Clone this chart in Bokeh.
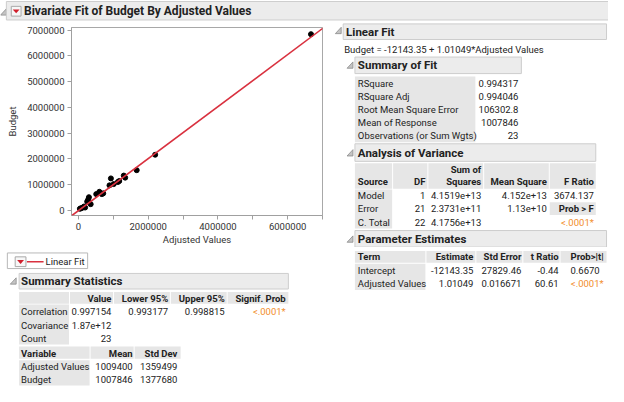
from bokeh.plotting import figure
from bokeh.models import Range1d, FixedTicker, BasicTickFormatter, Slope
from bokeh.layouts import column, row
from bokeh.core.properties import value
from bokeh.embed import file_html
from bokeh.resources import INLINE

# scatter data
adjusted_values = [6670000, 2200000, 1670000, 1340000, 1300000, 1170000, 1130000, 1010000,
                   930000, 890000, 710000, 670000, 600000, 510000, 350000, 300000, 280000,
                   250000, 160000, 110000, 70000, 190000, 40000]
budget = [6840000, 2160000, 1560000, 1270000, 1350000, 1140000, 1100000, 1020000,
          1240000, 970000, 660000, 630000, 720000, 630000, 240000, 510000, 420000,
          340000, 150000, 100000, 80000, 110000, 60000]
fit_intercept = -12143.35
fit_slope = 1.01049

y_ticks = [0, 1000000, 2000000, 3000000, 4000000, 5000000, 6000000, 7000000]
x_ticks = [0, 2000000, 4000000, 6000000]
x_minor = [1000000, 3000000, 5000000, 7000000]

fit_labels = ["RSquare", "RSquare Adj", "Root Mean Square Error", "Mean of Response",
              "Observations (or Sum Wgts)"]
fit_values = ["0.994317", "0.994046", "106302.8", "1007846", "23"]

anova_source = ["Model", "Error", "C. Total"]
anova_df = ["1", "21", "22"]
anova_ss = ["4.1519e+13", "2.3731e+11", "4.1756e+13"]
anova_ms = ["4.152e+13", "1.13e+10"]
anova_f = "3674.137"
anova_prob = "<.0001*"

pe_terms = ["Intercept", "Adjusted Values"]
pe_est = ["-12143.35", "1.01049"]
pe_se = ["27829.46", "0.016671"]
pe_t = ["-0.44", "60.61"]
pe_prob = ["0.6670", "<.0001*"]

stat_cols = ["Value", "Lower 95%", "Upper 95%", "Signif. Prob"]
stat_rows = ["Correlation", "Covariance", "Count"]
corr_row = ["0.997154", "0.993177", "0.998815", "<.0001*"]
covariance = "1.87e+12"
count = "23"
var_names = ["Adjusted Values", "Budget"]
var_mean = ["1009400", "1007846"]
var_sd = ["1359499", "1377680"]

FONT = "Roboto"
TXT = "#222222"
HEAD = "#ececec"
HEADLINE = "#cdcdcd"
CELL = "#e6e6e6"
ORANGE = "#f28e2b"
RED = "#d9313f"
SEC = "11.5px"

SX = 608 / 621
SY = 386 / 396


def rx(x, ox=0):
    return (x - 1) * SX - ox


def ry(y, oy=0):
    return (y - 2) * SY - oy


def canvas(w, h):
    p = figure(width=w, height=h, x_range=Range1d(0, w), y_range=Range1d(h, 0),
               x_axis_type=None, y_axis_type=None, toolbar_location=None,
               output_backend="svg", min_border=0)
    p.outline_line_color = None
    return p


def boxes(p, off, lefts, rights, top, bottom, fill, line=None):
    ox, oy = off
    p.quad(left=[rx(v, ox) for v in lefts], right=[rx(v, ox) for v in rights],
           top=[ry(top, oy)] * len(lefts), bottom=[ry(bottom, oy)] * len(lefts),
           fill_color=fill, line_color=line, line_width=1)


def texts(p, off, xs, ys, labels, align="left", size="9.5px", bold=False, color=TXT):
    ox, oy = off
    p.text(x=[rx(v, ox) for v in xs], y=[ry(v, oy) for v in ys], text=labels,
           text_align=align, text_baseline="middle", text_font=value(FONT),
           text_font_size=size, text_font_style="bold" if bold else "normal",
           text_color=color)


def disclosure(p, off, x, y):
    ox, oy = off
    p.patch([rx(x, ox), rx(x + 6, ox), rx(x + 6, ox)], [ry(y, oy), ry(y, oy), ry(y - 6.5, oy)],
            fill_color="#c4c4c4", line_color="#8c8c8c", line_width=0.8)


def red_button(p, off, l, r, t, b):
    ox, oy = off
    boxes(p, off, [l], [r], t, b, "#f7f7f7", "#a8a8a8")
    cx, cy = (l + r) / 2, (t + b) / 2
    p.patch([rx(cx - 3.5, ox), rx(cx + 3.5, ox), rx(cx, ox)],
            [ry(cy - 1.8, oy), ry(cy - 1.8, oy), ry(cy + 2.2, oy)],
            fill_color="#d01f2c", line_color=None)


# ---- top header
H = canvas(608, 22)
offH = (0, 0)
disclosure(H, offH, 1, 17)
boxes(H, offH, [7], [622], 3, 22, HEAD, HEADLINE)
red_button(H, offH, 12, 22, 8, 18)
texts(H, offH, [25], [13], ["Bivariate Fit of Budget By Adjusted Values"], size="12px", bold=True)

# ---- scatter plot
S = figure(width=330, height=225, x_range=Range1d(-200000, 7000000),
           y_range=Range1d(-200000, 7100000), toolbar_location=None, output_backend="svg",
           min_border_left=71, min_border_right=8, min_border_top=5, min_border_bottom=32)
S.grid.visible = False
S.outline_line_color = "#a8a8a8"
S.scatter(adjusted_values, budget, size=5, color="black")
S.add_layout(Slope(gradient=fit_slope, y_intercept=fit_intercept, line_color=RED, line_width=1.6))
S.yaxis.ticker = FixedTicker(ticks=y_ticks)
S.xaxis.ticker = FixedTicker(ticks=x_ticks, minor_ticks=x_minor)
for ax in (S.xaxis, S.yaxis):
    ax.formatter = BasicTickFormatter(use_scientific=False)
    ax.axis_line_color = "#a0a0a0"
    ax.major_tick_line_color = "#a0a0a0"
    ax.minor_tick_line_color = "#a0a0a0"
    ax.major_tick_in = 0
    ax.major_tick_out = 4
    ax.minor_tick_in = 0
    ax.minor_tick_out = 4
    ax.major_label_text_font = FONT
    ax.major_label_text_font_size = "9.5px"
    ax.major_label_text_color = "#333333"
    ax.major_label_standoff = 3
    ax.axis_label_text_font = FONT
    ax.axis_label_text_font_size = "9.5px"
    ax.axis_label_text_font_style = "normal"
    ax.axis_label_text_color = "#333333"
S.yaxis.minor_tick_line_color = None
S.xaxis.axis_label = "Adjusted Values"
S.yaxis.axis_label = "Budget"
S.xaxis.axis_label_standoff = 1
S.yaxis.axis_label_standoff = 6

# ---- right: linear fit report (upper part)
R = canvas(278, 225)
offR = (330, 22)
disclosure(R, offR, 343, 36)
boxes(R, offR, [351], [620], 26, 42, HEAD, HEADLINE)
texts(R, offR, [354], [34], ["Linear Fit"], size=SEC, bold=True)
equation = f"Budget = {fit_intercept:.2f} + {fit_slope}*Adjusted Values"
texts(R, offR, [352], [52], [equation])

disclosure(R, offR, 355, 71.5)
boxes(R, offR, [363], [533], 60, 77, HEAD, HEADLINE)
texts(R, offR, [366], [68.5], ["Summary of Fit"], size=SEC, bold=True)
boxes(R, offR, [363], [486], 80, 147.5, CELL)
fit_y = [86.7, 100.3, 113.7, 127, 141]
texts(R, offR, [366] * 5, fit_y, fit_labels)
texts(R, offR, [530] * 5, fit_y, fit_values, align="right")

disclosure(R, offR, 355, 161.5)
boxes(R, offR, [363], [609], 149, 167, HEAD, HEADLINE)
texts(R, offR, [366], [158], ["Analysis of Variance"], size=SEC, bold=True)
boxes(R, offR, [363, 402, 438, 495, 562], [401, 437, 494, 561, 609], 169, 195, CELL)
texts(R, offR, [366], [188], ["Source"], bold=True)
texts(R, offR, [492], [175.5], ["Sum of"], align="right", bold=True)
texts(R, offR, [435, 492, 559, 607], [188] * 4, ["DF", "Squares", "Mean Square", "F Ratio"],
      align="right", bold=True)
boxes(R, offR, [363], [401], 196, 236, CELL)
av_y = [202.3, 215.7, 229.3]
texts(R, offR, [366] * 3, av_y, anova_source)
texts(R, offR, [435] * 3, av_y, anova_df, align="right")
texts(R, offR, [492] * 3, av_y, anova_ss, align="right")
texts(R, offR, [559] * 2, av_y[:2], anova_ms, align="right")
texts(R, offR, [607], [av_y[0]], [anova_f], align="right")
boxes(R, offR, [562], [609], 209, 222, CELL)
texts(R, offR, [607], [av_y[1]], ["Prob > F"], align="right", bold=True)
texts(R, offR, [607], [av_y[2]], [anova_prob], align="right", color=ORANGE)

disclosure(R, offR, 355, 250)
boxes(R, offR, [363], [620], 238, 255, HEAD, HEADLINE)
texts(R, offR, [366], [247], ["Parameter Estimates"], size=SEC, bold=True)

# ---- bottom strip: legend, summary statistics, parameter estimates table
B = canvas(608, 139)
offB = (0, 247)
boxes(B, offB, [8], [90], 261, 277, "white", "#b8b8b8")
red_button(B, offB, 16, 27, 265, 275)
B.line([rx(28), rx(45)], [ry(270, 247)] * 2, line_color=RED, line_width=1.6)
texts(B, offB, [47], [270], ["Linear Fit"])

disclosure(B, offB, 11, 293)
boxes(B, offB, [20], [295], 282, 298, HEAD, HEADLINE)
texts(B, offB, [22], [290], ["Summary Statistics"], size=SEC, bold=True)
boxes(B, offB, [20, 72, 117, 175, 233], [71, 116, 174, 232, 295], 301, 313, CELL)
texts(B, offB, [114.3, 172.3, 230, 292.3], [307.5] * 4, stat_cols, align="right", bold=True)
boxes(B, offB, [20], [71], 314, 355, CELL)
texts(B, offB, [22] * 3, [321, 335, 348.7], stat_rows)
texts(B, offB, [114.3, 172.3, 230], [321] * 3, corr_row[:3], align="right")
texts(B, offB, [292.3], [321], corr_row[3:], align="right", color=ORANGE)
texts(B, offB, [114.3, 114.3], [335, 348.7], [covariance, count], align="right")
boxes(B, offB, [20, 93, 138], [92, 137, 185], 357, 369.5, CELL)
texts(B, offB, [22], [363.7], ["Variable"], bold=True)
texts(B, offB, [136, 181.7], [363.7] * 2, ["Mean", "Std Dev"], align="right", bold=True)
boxes(B, offB, [20], [92], 371, 397, CELL)
texts(B, offB, [22, 22], [377.7, 391], var_names)
texts(B, offB, [136, 136], [377.7, 391], var_mean, align="right")
texts(B, offB, [181.7, 181.7], [377.7, 391], var_sd, align="right")

boxes(B, offB, [363, 436, 487, 535, 573], [435, 486, 534, 572, 620], 259, 271, CELL)
texts(B, offB, [366], [265], ["Term"], bold=True)
texts(B, offB, [484, 533, 571, 617], [265] * 4, ["Estimate", "Std Error", "t Ratio", "Prob>|t|"],
      align="right", bold=True)
boxes(B, offB, [363], [435], 272, 299, CELL)
pe_y = [279.3, 292.7]
texts(B, offB, [366] * 2, pe_y, pe_terms)
texts(B, offB, [484] * 2, pe_y, pe_est, align="right")
texts(B, offB, [533] * 2, pe_y, pe_se, align="right")
texts(B, offB, [571] * 2, pe_y, pe_t, align="right")
texts(B, offB, [613], [pe_y[0]], pe_prob[:1], align="right")
texts(B, offB, [617], [pe_y[1]], pe_prob[1:], align="right", color=ORANGE)

# plots are wrapped in columns so the layout does not align their frames
layout = column(H, row(column(S), column(R)), B)
open("out.html", "w").write(file_html(layout, INLINE))
